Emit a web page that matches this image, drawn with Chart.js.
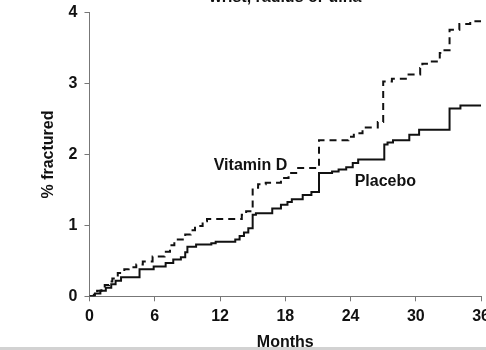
<!DOCTYPE html>
<html>
<head>
<meta charset="utf-8">
<script src="https://cdn.jsdelivr.net/npm/chart.js@4/dist/chart.umd.min.js"></script>
<style>
  html, body { margin: 0; padding: 0; background: #fff; overflow: hidden; width: 486px; height: 350px; }
  #wrap { position: absolute; left: 0; top: -20px; width: 496px; height: 371px; }
  #strip { position: absolute; left: 0; bottom: 0; width: 486px; height: 3px; background: #d2d2d2; }
</style>
</head>
<body>
<div id="wrap"><canvas id="c" width="496" height="371"></canvas></div>
<div id="strip"></div>
<script>
// Cumulative incidence of wrist fractures (%), step at each event time (months)
const placeboMonths = [0, 0.5, 1.0, 1.5, 2.0, 2.4, 2.9, 4.6, 5.9, 7.0, 7.7, 8.4, 8.8, 9.0, 9.8, 11.2, 11.6, 13.4, 13.8, 14.2, 14.6,
  15.0, 15.3, 16.8, 17.6, 18.2, 18.6, 19.6, 20.4, 21.1, 22.3, 22.9, 23.6, 24.2, 24.7, 27.1, 27.4, 27.9, 29.4, 30.3, 33.1, 34.1, 36];
const placeboPct = [0, 0.04, 0.08, 0.12, 0.17, 0.22, 0.27, 0.38, 0.42, 0.47, 0.52, 0.55, 0.62, 0.70, 0.73, 0.75, 0.77, 0.80, 0.85, 0.90, 0.96,
  1.15, 1.17, 1.24, 1.29, 1.33, 1.37, 1.43, 1.47, 1.74, 1.76, 1.79, 1.82, 1.88, 1.93, 2.14, 2.17, 2.20, 2.28, 2.35, 2.65, 2.69, 2.69];

const vitDMonths = [0, 0.4, 0.7, 1.1, 1.4, 1.8, 2.1, 2.6, 3.2, 3.6, 4.3, 4.9, 5.8, 6.9, 7.4, 7.8, 8.8, 9.3, 9.7, 10.4, 10.8, 14.0, 14.4,
  15.0, 15.5, 16.2, 17.6, 18.3, 19.0, 21.1, 23.8, 24.3, 25.1, 26.5, 27.0, 27.8, 29.2, 30.4, 30.6, 31.2, 32.2, 32.5, 33.1, 34.0, 35.0, 36];
const vitDPct = [0, 0.04, 0.08, 0.12, 0.16, 0.21, 0.25, 0.33, 0.38, 0.41, 0.45, 0.49, 0.56, 0.63, 0.72, 0.80, 0.87, 0.93, 0.99, 1.06, 1.09, 1.15, 1.20,
  1.53, 1.58, 1.60, 1.67, 1.74, 1.81, 2.20, 2.25, 2.30, 2.38, 2.46, 3.03, 3.07, 3.13, 3.22, 3.28, 3.31, 3.43, 3.47, 3.76, 3.84, 3.88, 3.88];

const monthTicks = [0, 6, 12, 18, 24, 30, 36];
const pctTicks = [0, 1, 2, 3, 4];

const FONT = '"Liberation Sans", Arial, Helvetica, sans-serif';
const INK = '#111';
const AXIS = '#777';

const toPoints = (xs, ys) => xs.map((x, i) => ({ x: x, y: ys[i] }));

// Series names written next to their curves
const seriesLabels = {
  id: 'seriesLabels',
  afterDatasetsDraw(chart) {
    const { ctx, scales: { x, y } } = chart;
    ctx.save();
    ctx.font = 'bold 16px ' + FONT;
    ctx.fillStyle = INK;
    ctx.textAlign = 'center';
    ctx.textBaseline = 'middle';
    ctx.fillText('Vitamin D', x.getPixelForValue(14.8), y.getPixelForValue(1.85));
    ctx.fillText('Placebo', x.getPixelForValue(27.2), y.getPixelForValue(1.62));
    ctx.restore();
  }
};

new Chart(document.getElementById('c'), {
  type: 'line',
  data: {
    datasets: [
      {
        label: 'Vitamin D',
        data: toPoints(vitDMonths, vitDPct),
        stepped: true,
        borderColor: INK,
        borderWidth: 2,
        borderDash: [7, 5],
        pointRadius: 0,
        fill: false
      },
      {
        label: 'Placebo',
        data: toPoints(placeboMonths, placeboPct),
        stepped: true,
        borderColor: INK,
        borderWidth: 2,
        pointRadius: 0,
        fill: false
      }
    ]
  },
  options: {
    responsive: false,
    animation: false,
    events: [],
    layout: { padding: { left: 0, right: 0, top: 0, bottom: 0 } },
    plugins: {
      legend: { display: false },
      tooltip: { enabled: false },
      title: {
        display: true,
        text: 'wrist, radius or ulna',
        fullSize: false,
        color: INK,
        font: { family: FONT, size: 16, weight: 'bold', lineHeight: 1.2 },
        padding: { top: 7.6, bottom: 5.9 }
      }
    },
    scales: {
      x: {
        type: 'linear',
        min: 0,
        max: 36,
        afterBuildTicks: (s) => { s.ticks = monthTicks.map(v => ({ value: v })); },
        ticks: {
          color: INK,
          maxRotation: 0,
          padding: 6,
          font: { family: FONT, size: 16, weight: 'bold' }
        },
        grid: { drawOnChartArea: false, drawTicks: true, tickLength: 5, color: AXIS },
        border: { display: true, color: AXIS, width: 1 },
        title: {
          display: true,
          text: 'Months',
          color: INK,
          font: { family: FONT, size: 16, weight: 'bold', lineHeight: 1 },
          padding: { top: 2.5, bottom: 0 }
        }
      },
      y: {
        type: 'linear',
        min: 0,
        max: 4,
        afterBuildTicks: (s) => { s.ticks = pctTicks.map(v => ({ value: v })); },
        ticks: {
          color: INK,
          padding: 7,
          font: { family: FONT, size: 16, weight: 'bold' }
        },
        grid: { drawOnChartArea: false, drawTicks: true, tickLength: 5, color: AXIS },
        border: { display: true, color: AXIS, width: 1 },
        title: {
          display: true,
          text: '% fractured',
          color: INK,
          font: { family: FONT, size: 16, weight: 'bold', lineHeight: 1 },
          padding: { top: 40.4, bottom: 5.2 }
        }
      }
    }
  },
  plugins: [seriesLabels]
});
</script>
</body>
</html>
